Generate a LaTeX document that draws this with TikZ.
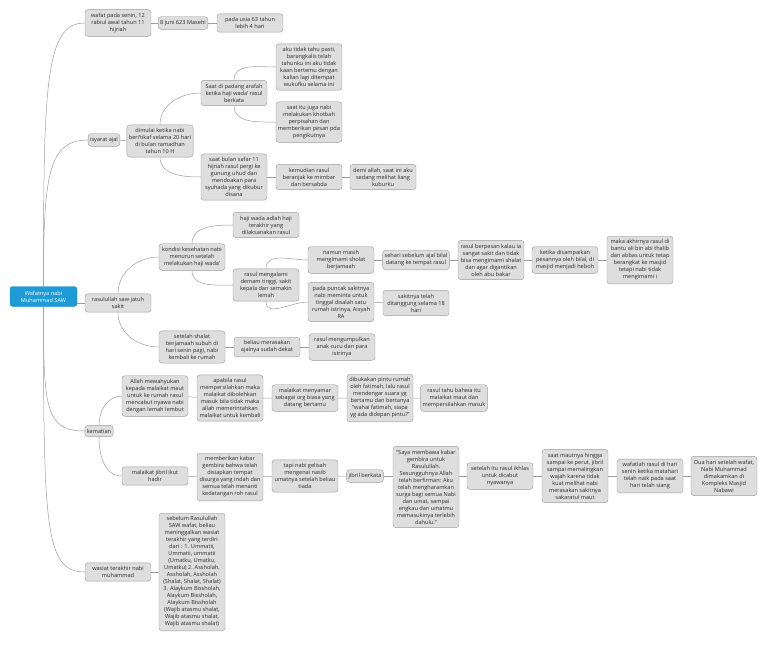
\documentclass[tikz,border=0pt]{standalone}
\usepackage{fontspec}
\setmainfont{Open Sans}
\definecolor{wafatBlue}{HTML}{1E9BD7}
\definecolor{wafatFill}{HTML}{DEDEDE}
\definecolor{wafatLine}{HTML}{9C9C9C}
\definecolor{wafatText}{HTML}{2A2A2A}
\newcommand{\wafatFont}{\fontsize{5.6}{7}\selectfont}
\begin{document}
\begin{tikzpicture}[
    x=1pt, y=-1pt,
    wafatRoot/.style={fill=wafatBlue, draw=wafatBlue!85!black, rounded corners=3pt,
        text=white, align=center, minimum width=67pt, minimum height=20pt, font=\wafatFont},
    wafatTopic/.style={fill=wafatFill, draw=wafatLine, rounded corners=3pt, align=center,
        minimum width=66pt, inner xsep=2pt, inner ysep=3.5pt, text=wafatText, font=\wafatFont},
    wafatTag/.style={wafatTopic, minimum width=0pt},
    wafatLink/.style={draw=wafatLine, line width=0.5pt}
]
    \useasboundingbox (0,0) rectangle (768,646);

    % pusat
    \node[wafatRoot] (root) at (43.5,296.5) {Wafatnya nabi\\Muhammad SAW};

    % wafat
    \node[wafatTopic] (wafat) at (118,23) {wafat pada senin, 12\\rabiul awal tahun 11\\hijriah};
    \node[wafatTag] (juni) at (183,23) {8 juni 623 Masehi};
    \node[wafatTopic] (usia) at (250,23) {pada usia 63 tahun\\lebih 4 hari};

    % isyarat ajal
    \node[wafatTag] (isyarat) at (104,140) {isyarat ajal};
    \node[wafatTopic] (dimulai) at (160,141) {dimulai ketika nabi\\beri'tikaf selama 20 hari\\di bulan ramadhan\\tahun 10 H};
    \node[wafatTopic] (padang) at (234,93) {Saat di padang arafah\\ketika haji wada' rasul\\berkata};
    \node[wafatTopic] (akuTahu) at (309,67) {aku tidak tahu pasti,\\barangkalis telah\\tahunku ini aku tidak\\kaan bertemu dengan\\kalian lagi ditempat\\wukufku selama ini};
    \node[wafatTopic] (khotbah) at (309,122) {saat itu juga nabi\\melakukan khotbah\\perpisahan dan\\memberikan pesan pda\\pengikutnya};
    \node[wafatTopic] (uhud) at (234,177) {saat bulan safar 11\\hijriah rasul pergi ke\\gunung uhud dan\\mendoakan para\\syuhada yang dikubur\\disana};
    \node[wafatTopic] (mimbar) at (309,177) {kemudian rasul\\beranjak ke mimbar\\dan bersabda};
    \node[wafatTopic] (liang) at (383,177) {demi allah, saat ini aku\\sedang melihat liang\\kuburku};

    % jatuh sakit
    \node[wafatTopic] (sakit) at (118,303) {rasulullah saw jatuh\\sakit};
    \node[wafatTopic] (kondisi) at (192,257) {kondisi kesehatan nabi\\menurun setelah\\melakukan haji wada'};
    \node[wafatTopic] (hajiWada) at (266,225) {haji wada adlah haji\\terakhir yang\\dilaksanakan rasul};
    \node[wafatTopic] (demam) at (266,285) {rasul mengalami\\demam tinggi, sakit\\kepala dan semakin\\lemah};
    \node[wafatTopic] (namun) at (341,260) {namun masih\\mengimami sholat\\berjamaah};
    \node[wafatTopic] (sehari) at (416,260) {sehari sebelum ajal bilal\\datang ke tempat rasul};
    \node[wafatTopic] (pesan) at (491,260) {rasul berpesan kalau ia\\sangat sakit dan tidak\\bisa mengimami shalat\\dan agar digantikan\\oleh abu bakar};
    \node[wafatTopic] (heboh) at (565,260) {ketika disampaikan\\pesannya oleh bilal, di\\masjid menjadi heboh};
    \node[wafatTopic] (dibantu) at (640,260) {maka akhirnya rasul di\\bantu ali bin abi thalib\\dan abbas untuk tetap\\berangkat ke masjid\\tetapi nabi tidak\\mengimami i};
    \node[wafatTopic] (puncak) at (341,302) {pada puncak sakitnya\\nabi meminta untuk\\tinggal disalah satu\\rumah istrinya, Aisyah\\RA};
    \node[wafatTopic] (lamaSakit) at (416,303) {sakitnya telah\\ditanggung selama 18\\hari};
    \node[wafatTopic] (subuh) at (192,347) {setelah shalat\\berjamaah subuh di\\hari senin pagi, nabi\\kembali ke rumah};
    \node[wafatTopic] (ajalDekat) at (267,347) {beliau merasakan\\ajalnya sudah dekat};
    \node[wafatTopic] (kumpul) at (342,347) {rasul mengumpulkan\\anak cucu dan para\\istrinya};

    % kematian
    \node[wafatTag] (kematian) at (99,431) {kematian};
    \node[wafatTopic] (wahyu) at (155,396) {Allah mewahyukan\\kepada malaikat maut\\untuk ke rumah rasul\\mencabut nyawa nabi\\dengan lemah lembut};
    \node[wafatTopic] (izin) at (230,398) {apabila rasul\\mempersilahkan maka\\malaikat dibolehkan\\masuk bila tidak maka\\allah memerintahkan\\malaikat untuk kembali};
    \node[wafatTopic] (menyamar) at (305,398) {malaikat menyamar\\sebagai org biasa yang\\datang bertamu};
    \node[wafatTopic] (fatimah) at (380,398) {dibukakan pintu rumah\\oleh fatimah, lalu rasul\\mendengar suara yg\\bertamu dan bertanya\\“wahai fatimah, siapa\\yg ada didepan pintu?”};
    \node[wafatTopic] (masuk) at (454,398) {rasul tahu bahwa itu\\malaikat maut dan\\mempersilahkan masuk};
    \node[wafatTopic] (jibril) at (155,476) {malaikat jibril ikut\\hadir};
    \node[wafatTopic] (gembira) at (230,477) {memberikan kabar\\gembira bahwa telah\\disiapkan tempat\\disurga yang indah dan\\semua telah menanti\\kedatangan roh rasul};
    \node[wafatTopic] (gelisah) at (305,476) {tapi nabi gelisah\\mengenai nasib\\umatnya setelah beliau\\tiada};
    \node[wafatTag] (berkata) at (365,476) {jibril berkata};
    \node[wafatTopic] (firman) at (426,487) {“Saya membawa kabar\\gembira untuk\\Rasulullah.\\Sesungguhnya Allah\\telah berfirman: Aku\\telah mengharamkan\\surga bagi semua Nabi\\dan umat, sampai\\engkau dan umatmu\\memasukinya terlebih\\dahulu.”};
    \node[wafatTopic] (ikhlas) at (500,476) {setelah itu rasul ikhlas\\untuk dicabut\\nyawanya};
    \node[wafatTopic] (sakaratul) at (575,476) {saat mautnya hingga\\sampai ke perut, jibril\\sampai memalingkan\\wajah karena tidak\\kuat melihat nabi\\merasakan sakitnya\\sakaratul maut};
    \node[wafatTopic] (siang) at (650,476) {wafatlah rasul di hari\\senin ketika matahari\\telah naik pada saat\\hari telah siang};
    \node[wafatTopic] (makam) at (724,476) {Dua hari setelah wafat,\\Nabi Muhammad\\dimakamkan di\\Kompleks Masjid\\Nabawi};

    % wasiat
    \node[wafatTopic] (wasiat) at (118,572) {wasiat terakhir nabi\\muhammad};
    \node[wafatTopic] (isiWasiat) at (192,572) {sebelum Rasulullah\\SAW wafat, beliau\\meninggalkan wasiat\\terakhir yang terdiri\\dari : 1. Ummatii,\\Ummatii, ummatii\\(Umatku, Umatku,\\Umatku) 2. Assholah,\\Assholah, Assholah\\(Shalat, Shalat, Shalat)\\3. Alaykum Bissholah,\\Alaykum Bissholah,\\Alaykum Bissholah\\(Wajib atasmu shalat,\\Wajib atasmu shalat,\\Wajib atasmu shalat)};

    % cabang dari pusat
    \draw[wafatLink] (root.north) .. controls +(0,-200) and +(-40,0) .. (wafat.west);
    \draw[wafatLink] (root.north) .. controls +(0,-110) and +(-40,0) .. (isyarat.west);
    \draw[wafatLink] (root.east |- sakit.west) -- (sakit.west);
    \draw[wafatLink] (root.south) .. controls +(0,100) and +(-40,0) .. (kematian.west);
    \draw[wafatLink] (root.south) .. controls +(0,220) and +(-40,0) .. (wasiat.west);

    % sambungan
    \draw[wafatLink] (wafat) -- (juni) -- (usia);
    \draw[wafatLink] (isyarat) -- (dimulai);
    \draw[wafatLink] (dimulai.north) to[out=90, in=180] (padang.west);
    \draw[wafatLink] (dimulai.south) to[out=-90, in=180] (uhud.west);
    \draw[wafatLink] (padang.north) to[out=90, in=180] (akuTahu.west);
    \draw[wafatLink] (padang.south) to[out=-90, in=180] (khotbah.west);
    \draw[wafatLink] (uhud) -- (mimbar) -- (liang);

    \draw[wafatLink] (sakit.north) to[out=90, in=180] (kondisi.west);
    \draw[wafatLink] (sakit.south) to[out=-90, in=180] (subuh.west);
    \draw[wafatLink] (kondisi.north) to[out=90, in=180] (hajiWada.west);
    \draw[wafatLink] (kondisi.south) to[out=-90, in=180] (demam.west);
    \draw[wafatLink] (demam.north) to[out=90, in=180] (namun.west);
    \draw[wafatLink] (demam.south) to[out=-90, in=180] (puncak.west);
    \draw[wafatLink] (namun) -- (sehari) -- (pesan) -- (heboh) -- (dibantu);
    \draw[wafatLink] (puncak) -- (lamaSakit);
    \draw[wafatLink] (subuh) -- (ajalDekat) -- (kumpul);

    \draw[wafatLink] (kematian.north) to[out=90, in=180] (wahyu.west);
    \draw[wafatLink] (kematian.south) to[out=-90, in=180] (jibril.west);
    \draw[wafatLink] (wahyu) -- (izin) -- (menyamar) -- (fatimah) -- (masuk);
    \draw[wafatLink] (jibril) -- (gembira) -- (gelisah) -- (berkata);
    \draw[wafatLink] (berkata.east) -- (berkata.east -| firman.west);
    \draw[wafatLink] (ikhlas.west -| firman.east) -- (ikhlas.west);
    \draw[wafatLink] (ikhlas) -- (sakaratul) -- (siang) -- (makam);

    \draw[wafatLink] (wasiat) -- (isiWasiat);
\end{tikzpicture}
\end{document}
